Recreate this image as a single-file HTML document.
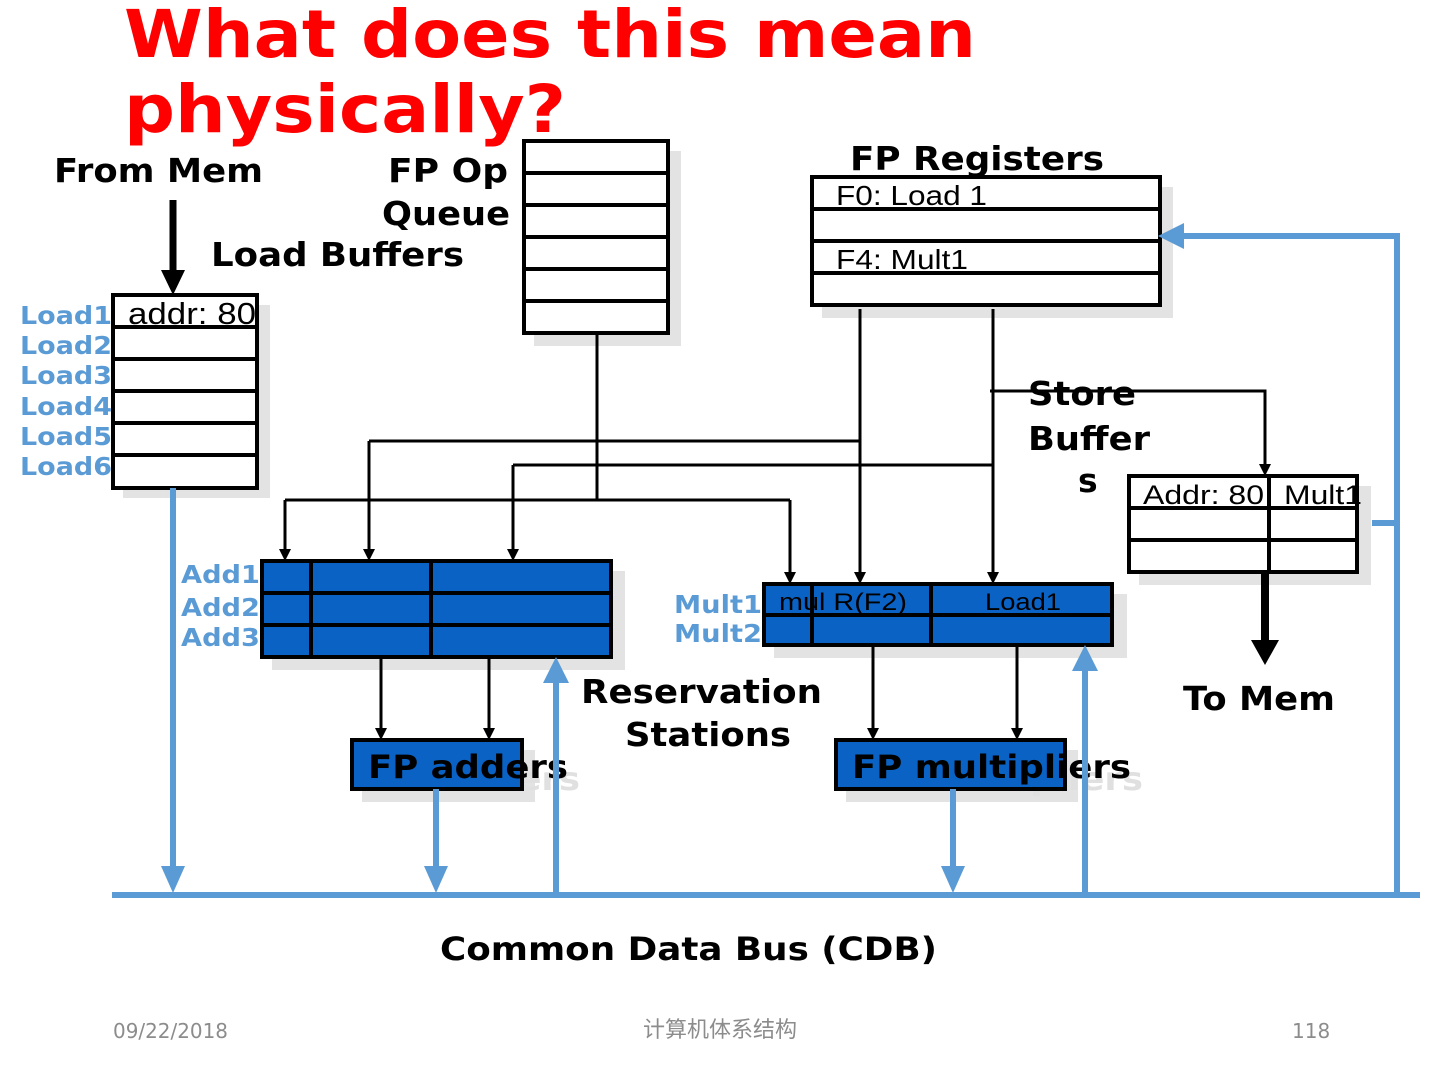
<!DOCTYPE html>
<html><head><meta charset="utf-8"><style>
html,body{margin:0;padding:0;background:#fff;width:1440px;height:1080px;overflow:hidden}
svg{display:block}
.b{font-family:"DejaVu Sans","Liberation Sans",sans-serif;font-weight:bold}
.n{font-family:"Liberation Sans",sans-serif}
</style></head><body>
<svg width="1440" height="1080" viewBox="0 0 1440 1080" xmlns="http://www.w3.org/2000/svg">
<!-- title -->
<text class="b" x="124" y="57" font-size="66" fill="#ff0000" textLength="852" lengthAdjust="spacingAndGlyphs">What does this mean</text>
<text class="b" x="124" y="132" font-size="66" fill="#ff0000" textLength="442" lengthAdjust="spacingAndGlyphs">physically?</text>

<!-- shadows -->
<g fill="#e3e3e3">
<rect x="123" y="305" width="147" height="193"/>
<rect x="534" y="151" width="147" height="195"/>
<rect x="822" y="187" width="351" height="131"/>
<rect x="1139" y="486" width="232" height="99"/>
<rect x="272" y="571" width="353" height="99"/>
<rect x="774" y="594" width="353" height="64"/>
<rect x="362" y="750" width="173" height="52"/>
<rect x="846" y="750" width="232" height="52"/>
</g>
<text class="b" x="380" y="790" font-size="32" fill="#e0e0e0" textLength="200" lengthAdjust="spacingAndGlyphs">FP adders</text>
<text class="b" x="864" y="790" font-size="32" fill="#e0e0e0" textLength="279" lengthAdjust="spacingAndGlyphs">FP multipliers</text>

<!-- labels -->
<g class="b" font-size="33" lengthAdjust="spacingAndGlyphs">
<text x="54" y="182" textLength="209" lengthAdjust="spacingAndGlyphs">From Mem</text>
<text x="388" y="182" textLength="120" lengthAdjust="spacingAndGlyphs">FP Op</text>
<text x="382" y="225" textLength="128" lengthAdjust="spacingAndGlyphs">Queue</text>
<text x="211" y="266" textLength="253" lengthAdjust="spacingAndGlyphs">Load Buffers</text>
<text x="850" y="170" textLength="254" lengthAdjust="spacingAndGlyphs">FP Registers</text>
<text x="1028" y="405" textLength="108" lengthAdjust="spacingAndGlyphs">Store</text>
<text x="1028" y="450" textLength="122" lengthAdjust="spacingAndGlyphs">Buffer</text>
<text x="1078" y="492">s</text>
<text x="1183" y="710" textLength="152" lengthAdjust="spacingAndGlyphs">To Mem</text>
<text x="581" y="703" textLength="241" lengthAdjust="spacingAndGlyphs">Reservation</text>
<text x="625" y="746" textLength="166" lengthAdjust="spacingAndGlyphs">Stations</text>
<text x="440" y="960" font-size="32" textLength="497" lengthAdjust="spacingAndGlyphs">Common Data Bus (CDB)</text>
</g>

<g class="b" font-size="25" fill="#5b9bd5">
<text x="20" y="324" textLength="92" lengthAdjust="spacingAndGlyphs">Load1</text><text x="20" y="354" textLength="92" lengthAdjust="spacingAndGlyphs">Load2</text><text x="20" y="384" textLength="92" lengthAdjust="spacingAndGlyphs">Load3</text>
<text x="20" y="415" textLength="92" lengthAdjust="spacingAndGlyphs">Load4</text><text x="20" y="445" textLength="92" lengthAdjust="spacingAndGlyphs">Load5</text><text x="20" y="475" textLength="92" lengthAdjust="spacingAndGlyphs">Load6</text>
<text x="181" y="583" textLength="79" lengthAdjust="spacingAndGlyphs">Add1</text><text x="181" y="616" textLength="79" lengthAdjust="spacingAndGlyphs">Add2</text><text x="181" y="646" textLength="79" lengthAdjust="spacingAndGlyphs">Add3</text>
<text x="674" y="613" textLength="88" lengthAdjust="spacingAndGlyphs">Mult1</text><text x="674" y="642" textLength="88" lengthAdjust="spacingAndGlyphs">Mult2</text>
</g>

<!-- From mem arrow -->
<line x1="173" y1="200" x2="173" y2="272" stroke="#000" stroke-width="7"/>
<path d="M161,270 L185,270 L173,295 z"/>

<!-- boxes -->
<g fill="#fff" stroke="#000" stroke-width="4">
<rect x="113" y="295" width="144" height="193"/>
<path d="M113,327H257M113,359H257M113,391H257M113,423H257M113,455H257" fill="none"/>
<rect x="524" y="141" width="144" height="192"/>
<path d="M524,173H668M524,205H668M524,237H668M524,269H668M524,301H668" fill="none"/>
<rect x="812" y="177" width="348" height="128"/>
<path d="M812,209H1160M812,241H1160M812,273H1160" fill="none"/>
<rect x="1129" y="476" width="228" height="96"/>
<path d="M1129,508H1357M1129,540H1357M1269,476V572" fill="none"/>
</g>
<text class="n" x="128" y="324" font-size="31" textLength="128" lengthAdjust="spacingAndGlyphs">addr: 80</text>
<text class="n" x="836" y="205" font-size="28" textLength="151" lengthAdjust="spacingAndGlyphs">F0: Load 1</text>
<text class="n" x="836" y="269" font-size="28" textLength="132" lengthAdjust="spacingAndGlyphs">F4: Mult1</text>
<text class="n" x="1143" y="504" font-size="27" textLength="121" lengthAdjust="spacingAndGlyphs">Addr: 80</text>
<text class="n" x="1284" y="504" font-size="27" textLength="78" lengthAdjust="spacingAndGlyphs">Mult1</text>

<!-- black connectors -->
<g stroke="#000" stroke-width="3" fill="none">
<path d="M597,333V500M285,500H790"/>
<path d="M285,500V550"/>
<path d="M790,500V574"/>
<path d="M860,309V574"/>
<path d="M369,441H860"/>
<path d="M369,441V550"/>
<path d="M993,309V574"/>
<path d="M513,465H993"/>
<path d="M513,465V550"/>
<path d="M990,391H1265V465"/>
<path d="M381,657V730"/>
<path d="M489,657V730"/>
<path d="M873,645V730"/>
<path d="M1017,645V730"/>
</g>
<g fill="#000">
<path d="M279,549h12l-6,12z"/>
<path d="M363,549h12l-6,12z"/>
<path d="M507,549h12l-6,12z"/>
<path d="M784,572h12l-6,12z"/>
<path d="M854,572h12l-6,12z"/>
<path d="M987,572h12l-6,12z"/>
<path d="M1259,464h12l-6,12z"/>
<path d="M375,728h12l-6,12z"/>
<path d="M483,728h12l-6,12z"/>
<path d="M867,728h12l-6,12z"/>
<path d="M1011,728h12l-6,12z"/>
</g>
<line x1="1265" y1="572" x2="1265" y2="642" stroke="#000" stroke-width="8"/>
<path d="M1251,640 L1279,640 L1265,665 z"/>

<!-- reservation stations -->
<g fill="#0a62c4" stroke="#000" stroke-width="4">
<rect x="262" y="561" width="349" height="96"/>
<path d="M262,593H611M262,625H611M311,561V657M431,561V657" fill="none"/>
<rect x="764" y="584" width="348" height="61"/>
<path d="M764,615H1112M812,584V645M931,584V645" fill="none"/>
<rect x="352" y="740" width="170" height="49"/>
<rect x="836" y="740" width="229" height="49"/>
</g>
<text class="n" x="779" y="610" font-size="24" textLength="128" lengthAdjust="spacingAndGlyphs">mul  R(F2)</text>
<text class="n" x="985" y="610" font-size="24" textLength="76" lengthAdjust="spacingAndGlyphs">Load1</text>
<text class="b" x="368" y="778" font-size="32" textLength="200" lengthAdjust="spacingAndGlyphs">FP adders</text>
<text class="b" x="852" y="778" font-size="32" textLength="279" lengthAdjust="spacingAndGlyphs">FP multipliers</text>

<!-- blue bus -->
<g stroke="#5b9bd5" stroke-width="6" fill="none">
<path d="M112,895H1420"/>
<path d="M1397,895V236H1180"/>
<path d="M1372,523H1397"/>
<path d="M173,488V870"/>
<path d="M436,789V870"/>
<path d="M953,789V870"/>
<path d="M556,895V680"/>
<path d="M1085,895V668"/>
</g>
<g fill="#5b9bd5">
<path d="M1158,236 L1184,223 L1184,249 z"/>
<path d="M161,866 L185,866 L173,893 z"/>
<path d="M424,866 L448,866 L436,893 z"/>
<path d="M941,866 L965,866 L953,893 z"/>
<path d="M543,683 L569,683 L556,657 z"/>
<path d="M1072,671 L1098,671 L1085,645 z"/>
</g>

<!-- footer -->
<text x="113" y="1038" font-size="20" fill="#8c8c8c" font-family="'DejaVu Sans',sans-serif" textLength="115" lengthAdjust="spacingAndGlyphs">09/22/2018</text>
<text x="720" y="1037" font-size="22" fill="#8c8c8c" text-anchor="middle" font-family="'Liberation Sans','Noto Sans CJK SC',sans-serif">计算机体系结构</text>
<text x="1292" y="1038" font-size="20" fill="#8c8c8c" font-family="'DejaVu Sans',sans-serif">118</text>
</svg>
</body></html>
